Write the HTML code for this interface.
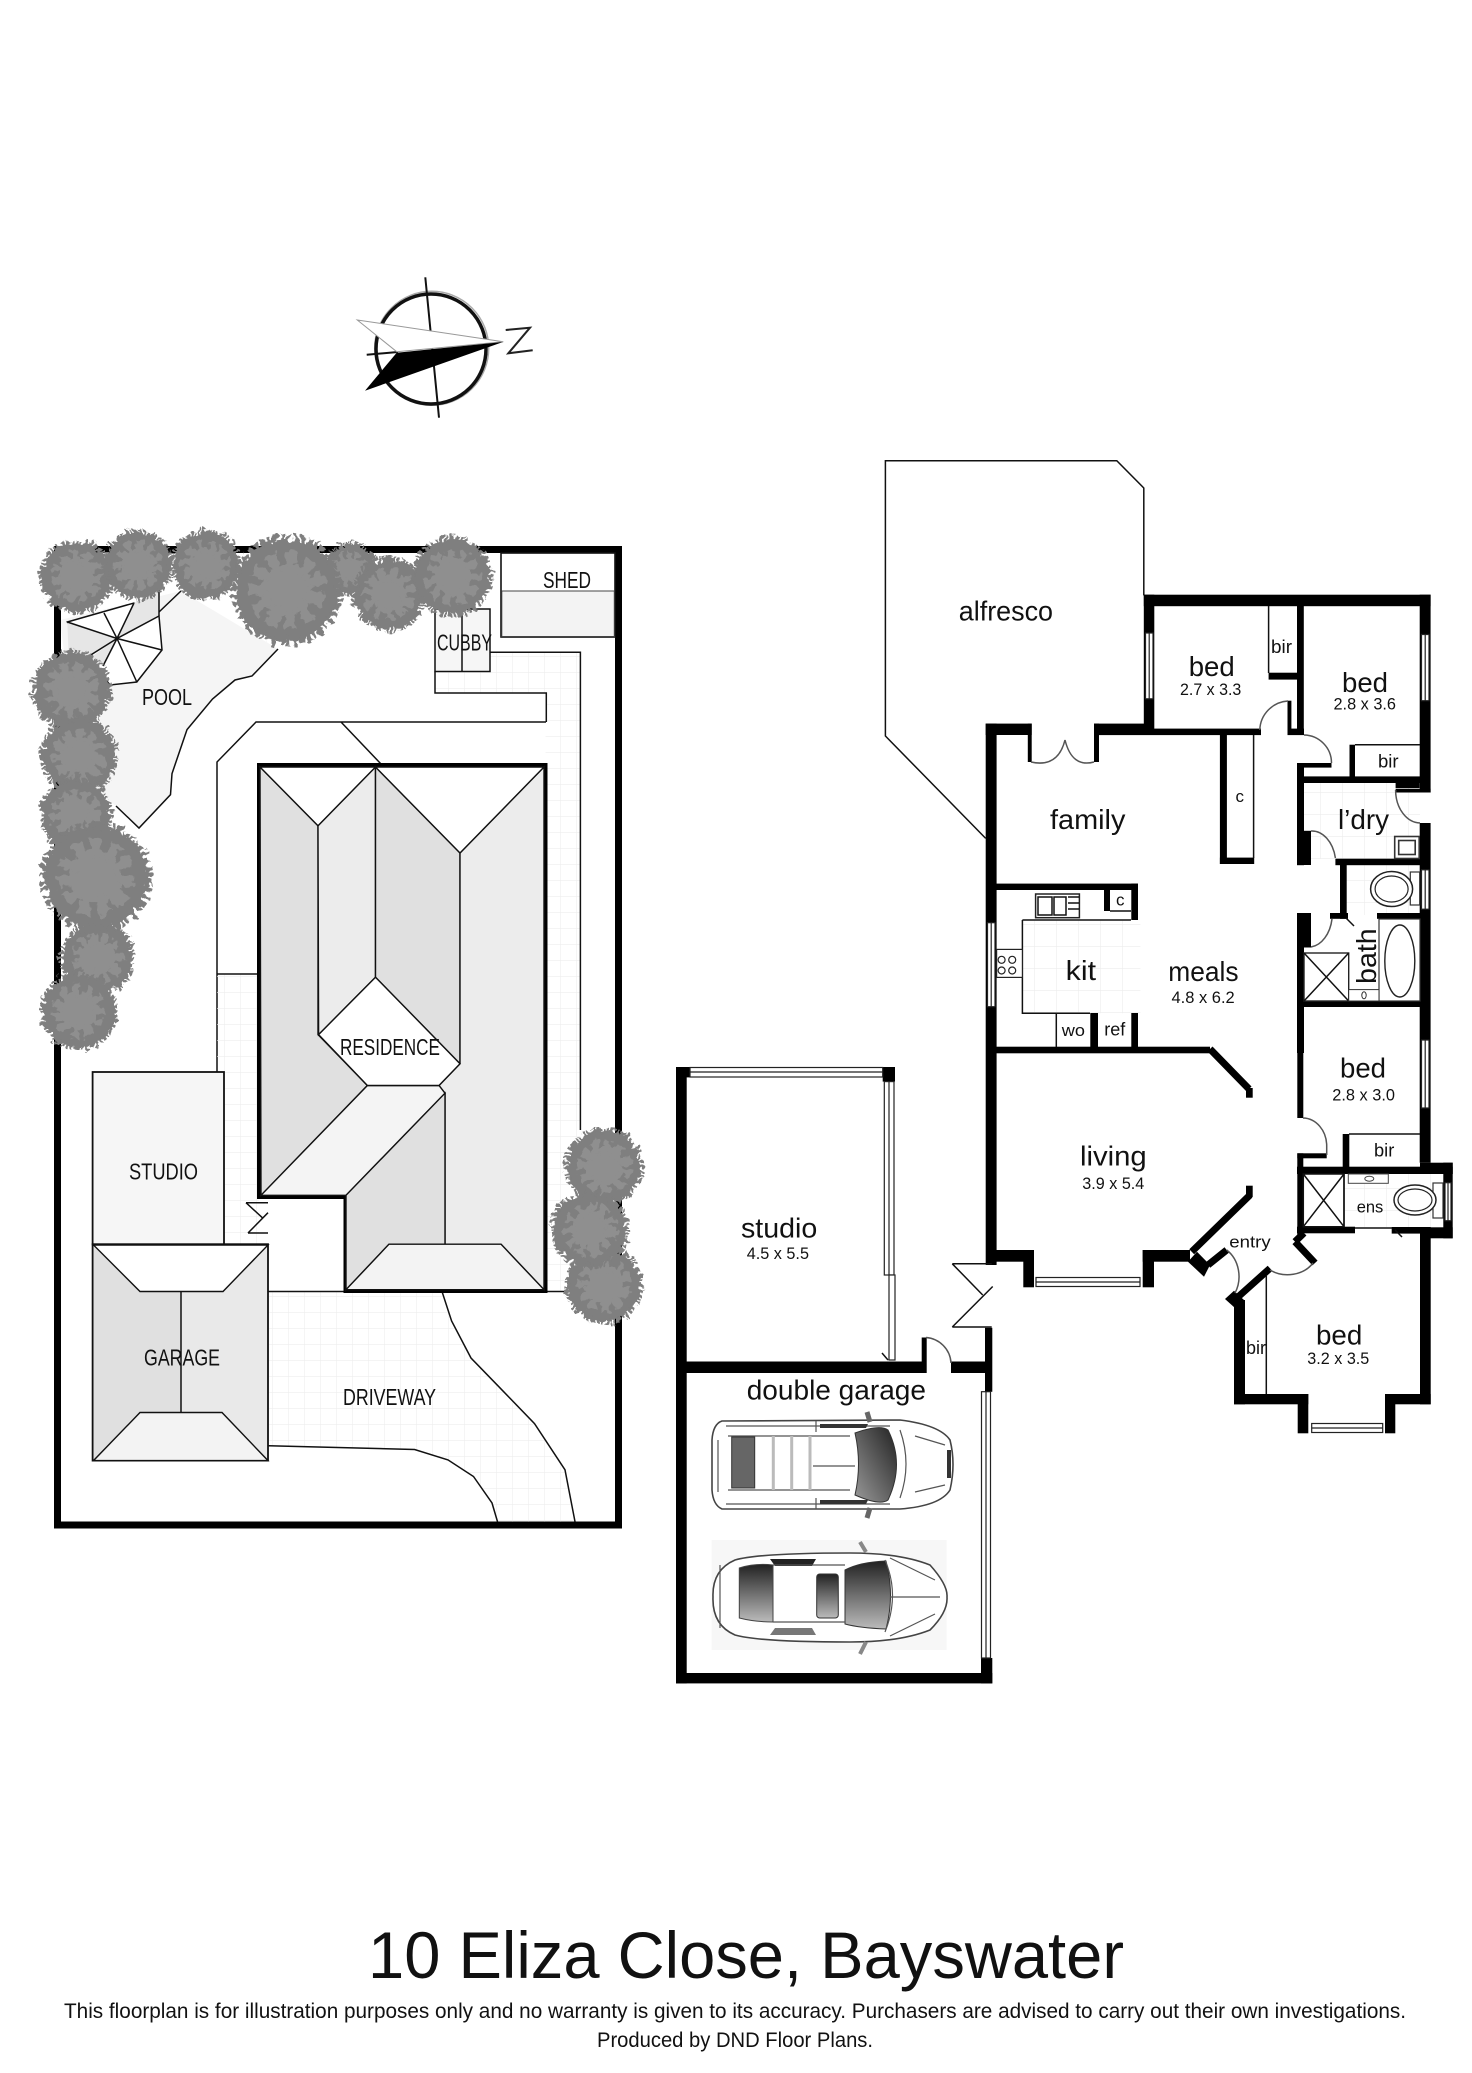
<!DOCTYPE html>
<html><head><meta charset="utf-8"><style>
html,body{margin:0;padding:0;background:#fff}
svg{display:block}
text{font-family:"Liberation Sans",sans-serif;fill:#111}
.l{stroke:#111;stroke-width:1.5;fill:none}
.t{stroke:#444;stroke-width:1.5;fill:none}
.a{stroke:#555;stroke-width:1.5;fill:none}
.w{fill:#fff;stroke:#222;stroke-width:1.2}
</style></head><body>
<svg width="1472" height="2073" viewBox="0 0 1472 2073" xmlns="http://www.w3.org/2000/svg">
<defs>
<pattern id="g1" width="16" height="16" patternUnits="userSpaceOnUse"><path d="M16 0H0V16" fill="none" stroke="#eee" stroke-width="1.2"/></pattern>
<pattern id="g2" width="22" height="22" patternUnits="userSpaceOnUse"><path d="M22 0H0V22" fill="none" stroke="#ececec" stroke-width="1.2"/></pattern>
<linearGradient id="d1" x1="1" y1="0" x2="0" y2="1"><stop offset="0" stop-color="#222"/><stop offset="1" stop-color="#999"/></linearGradient>
<linearGradient id="d2" x1="0" y1="0" x2="0" y2="1"><stop offset="0" stop-color="#222"/><stop offset="1" stop-color="#bbb"/></linearGradient>
<filter id="rough" filterUnits="userSpaceOnUse" x="0" y="500" width="700" height="900" color-interpolation-filters="sRGB"><feTurbulence type="fractalNoise" baseFrequency=".13" numOctaves="2" seed="3"/><feDisplacementMap in="SourceGraphic" scale="11" xChannelSelector="R" yChannelSelector="G"/></filter>
<g id="t">
<circle r="88" fill="#7f7f7f"/>
<circle r="90" fill="none" stroke="#7f7f7f" stroke-width="14" stroke-dasharray="7 5"/>
<circle r="46" fill="#8f8f8f"/>
<circle r="50" fill="none" stroke="#8f8f8f" stroke-width="34" stroke-dasharray="17 11"/>
</g>
</defs>
<rect width="1472" height="2073" fill="#fff"/>

<!-- compass -->
<circle cx="431.7" cy="348.3" r="57" fill="none" stroke="#aaa" stroke-width="1.5"/>
<circle cx="431" cy="349" r="55" fill="none" stroke="#111" stroke-width="3.5"/>
<path d="M425.3,277.3L439,417.7M366.7,354.7L398,352" stroke="#111" stroke-width="2" fill="none"/>
<path d="M357.3,320L503.3,341.7L396.7,351.7Z" fill="#fff" stroke="#999" stroke-width="1"/>
<path d="M503,342L396.7,352.7L365,390.7Z" fill="#000"/>
<path d="M505.7,330L530,327.7L508.3,353.3L532.7,350.3" fill="none" stroke="#222" stroke-width="2"/>

<!-- site -->
<path d="M181,591L278,649L252,676L235,680L212.5,699L187,729.6L172,773.6L170.5,794.7L139,828L116,806L80,780L60,620Z" fill="#f5f5f5"/>
<path d="M181,591L159,612M278,649L252,676L235,680L212.5,699L187,729.6L172,773.6L170.5,794.7L139,828L116,806" class="l"/>
<path d="M67.3,622L134,603L159,616L162,650L136.8,682L110,685L87.5,657Z" fill="#fff" stroke="#111" stroke-width="1.5"/>
<path d="M117,638.5L67.3,622L68.6,654L87.5,657ZM117,638.5L134,603L159,590L159,616ZM117,638.5L103,666L87,660Z" fill="#e6e6e6"/>
<path d="M117,638.5L67.3,622M117,638.5L104,613M117,638.5L134,603M117,638.5L159,616M117,638.5L162,650M117,638.5L136.8,682M117,638.5L103,666M117,638.5L87.5,657M159,590V616" class="l"/>
<rect x="57.5" y="549.5" width="561" height="975.5" fill="none" stroke="#000" stroke-width="7"/>
<rect x="501" y="553" width="114" height="84" fill="#fff" stroke="#111" stroke-width="1.6"/>
<rect x="501.8" y="591" width="112.5" height="45.5" fill="#f3f3f3" stroke="#444" stroke-width="1"/>
<path d="M490,652.3H580.4V1291.5H545.5V693H435V671.5H490Z" fill="#fff"/>
<path d="M490,652.3H580.4V1291.5H545.5V693H435V671.5H490Z" fill="url(#g1)"/>
<path d="M490,652.3H580.4V1130M435,671.5V693H546.3V722" class="l"/>
<rect x="435" y="609" width="55" height="62.5" fill="#f6f6f6" stroke="#111" stroke-width="1.5"/>
<path d="M462,609V671.5" class="l"/>
<path d="M546,722H256L217,762V1072M341,722L381,764" class="l"/>
<path d="M217,974H259V1244H224V1072H217Z" fill="url(#g1)"/>
<path d="M217,974H259" class="l"/>
<path d="M268,1291.5H442L451.6,1321L471,1358L497,1384.8L534.5,1423.6L565,1469.8L575,1521.6H497.5L492,1503L473.5,1476.5L448,1459.9L414.6,1449.5L268.5,1445.8Z" fill="url(#g1)"/>
<path d="M442,1291.5L451.6,1321L471,1358L497,1384.8L534.5,1423.6L565,1469.8L575,1521.6M497.5,1521.6L492,1503L473.5,1476.5L448,1459.9L414.6,1449.5L268.5,1445.8" class="l" stroke-width="1.2"/>
<path d="M268,1291.5H346M544,1291.5H564" class="l"/>
<path d="M246,1202.7H268M246,1202.7L263,1218.3M248,1233L268,1212.7M248,1233H268" class="l"/>

<!-- residence -->
<path d="M259,765H545.5V1291H345.5V1197H259Z" fill="#fff" stroke="#000" stroke-width="4"/>
<path d="M260,767L318,825.7V1034.6L367.4,1085.5L261,1195.3Z" fill="#e0e0e0" stroke="#111" stroke-width="1.4"/>
<path d="M318,825.7L375.5,767V977.2L318.6,1034.6Z" fill="#ececec" stroke="#111" stroke-width="1.4"/>
<path d="M375.5,767L460,853V1063.7L375.5,977.2Z" fill="#e0e0e0" stroke="#111" stroke-width="1.4"/>
<path d="M460,853L544,767V1289.7L501,1244.2H445V1093.2L439,1085.5L460,1063.7Z" fill="#ececec" stroke="#111" stroke-width="1.4"/>
<path d="M367.4,1085.5H439L445,1093.2L346,1195.3H261Z" fill="#f4f4f4" stroke="#111" stroke-width="1.4"/>
<path d="M445,1093.2V1244.2H389L346,1289.7V1195.3Z" fill="#e0e0e0" stroke="#111" stroke-width="1.4"/>
<path d="M389,1244.2H501L544,1289.7H346Z" fill="#f3f3f3" stroke="#111" stroke-width="1.4"/>
<path d="M260,767H375.5L318,825.7ZM375.5,767H544L460,853ZM318.6,1034.6L375.5,977.2L460,1063.7L439,1085.5H367.4Z" fill="#fff" stroke="#111" stroke-width="1.4"/>

<!-- studio & garage site -->
<rect x="92.6" y="1072" width="131.4" height="172.5" fill="#f6f6f6" stroke="#111" stroke-width="1.8"/>
<rect x="92.6" y="1244.2" width="175.4" height="216.4" fill="#e9e9e9" stroke="#111" stroke-width="1.8"/>
<path d="M93.5,1245L140,1291.5H181V1412.5H140L93.5,1460Z" fill="#e0e0e0"/>
<path d="M93.5,1245H268L223,1291.5H140Z" fill="#fff" stroke="#111" stroke-width="1.4"/>
<path d="M140,1412.5H222L268,1460.6H93.5Z" fill="#f3f3f3" stroke="#111" stroke-width="1.4"/>
<path d="M181,1291.5V1412.5" class="l"/>

<text x="543" y="588" font-size="23" textLength="48" lengthAdjust="spacingAndGlyphs">SHED</text>
<text x="437" y="650.4" font-size="23" textLength="55" lengthAdjust="spacingAndGlyphs">CUBBY</text>
<text x="142" y="705" font-size="23" textLength="50" lengthAdjust="spacingAndGlyphs">POOL</text>
<text x="340" y="1055" font-size="23" textLength="100" lengthAdjust="spacingAndGlyphs">RESIDENCE</text>
<text x="129" y="1179.4" font-size="23" textLength="69" lengthAdjust="spacingAndGlyphs">STUDIO</text>
<text x="144" y="1365.5" font-size="23" textLength="76" lengthAdjust="spacingAndGlyphs">GARAGE</text>
<text x="343" y="1405" font-size="23" textLength="93" lengthAdjust="spacingAndGlyphs">DRIVEWAY</text>

<!-- trees -->
<g filter="url(#rough)">
<use href="#t" transform="translate(350,569) scale(.28)"/>
<use href="#t" transform="translate(206,565) scale(.37) rotate(20)"/>
<use href="#t" transform="translate(76.6,576.5) scale(.39)"/>
<use href="#t" transform="translate(138,565) scale(.37) rotate(40)"/>
<use href="#t" transform="translate(389,594.5) scale(.39) rotate(15)"/>
<use href="#t" transform="translate(287,590) scale(.58) rotate(10)"/>
<use href="#t" transform="translate(452.5,576.5) scale(.42) rotate(30)"/>
<use href="#t" transform="translate(71.5,690) scale(.42) rotate(50)"/>
<use href="#t" transform="translate(79,755.6) scale(.41) rotate(5)"/>
<use href="#t" transform="translate(76,814) scale(.38)"/>
<use href="#t" transform="translate(97.6,958) scale(.39) rotate(25)"/>
<use href="#t" transform="translate(96,877) scale(.58) rotate(35)"/>
<use href="#t" transform="translate(79,1011) scale(.41) rotate(60)"/>
<use href="#t" transform="translate(604,1285) scale(.41) rotate(12)"/>
<use href="#t" transform="translate(604,1166.5) scale(.41) rotate(45)"/>
<use href="#t" transform="translate(590,1229.4) scale(.41) rotate(70)"/>
</g>

<!-- alfresco -->
<path d="M985.7,838.4L885.4,736V460.7H1116.8L1143.8,488V595.4" class="l"/>

<!-- tiled areas -->
<rect x="1022.4" y="920" width="118" height="93.3" fill="url(#g2)"/>
<rect x="1304" y="783" width="116" height="76" fill="url(#g2)"/>
<rect x="1346" y="865" width="74" height="50" fill="url(#g2)"/>
<rect x="1345" y="1174" width="98" height="53" fill="url(#g2)"/>

<!-- walls: main house -->
<g fill="#000">
<rect x="1143.8" y="594.7" width="286.8" height="11.5"/>
<rect x="1143.8" y="594.7" width="10.5" height="140.3"/>
<rect x="985.7" y="723.6" width="46" height="11.4"/>
<rect x="1094" y="723.6" width="50" height="11.4"/>
<rect x="1099" y="728.6" width="162" height="6.5"/>
<rect x="985.7" y="723.6" width="10.9" height="541.4"/>
<rect x="1027.8" y="723.6" width="3.9" height="38.4"/>
<rect x="1094" y="723.6" width="5" height="38.4"/>
<rect x="1297" y="606" width="6.8" height="129"/>
<rect x="1268.6" y="672.7" width="28.4" height="6.9"/>
<rect x="1287.5" y="700.7" width="3.9" height="34.3"/>
<rect x="1287.5" y="728.6" width="16.5" height="6.5"/>
<rect x="1219.9" y="735" width="7" height="129"/>
<rect x="1219.9" y="857.6" width="34.3" height="6.4"/>
<rect x="1297" y="763" width="7" height="102.2"/>
<rect x="1297" y="763" width="34.5" height="4.6"/>
<rect x="1349.5" y="744.7" width="5.5" height="33"/>
<rect x="1304" y="776.4" width="116" height="6.6"/>
<rect x="1419.7" y="594.7" width="10.9" height="197.8"/>
<rect x="1395.6" y="783" width="24" height="5"/>
<rect x="1395.6" y="788.7" width="35" height="3.8"/>
<rect x="1419.7" y="823" width="10.9" height="339.7"/>
<rect x="1304" y="830.8" width="7" height="34.2"/>
<rect x="1335.4" y="858.7" width="84.6" height="6.5"/>
<rect x="1340" y="865" width="6.7" height="53.8"/>
<rect x="1330" y="913" width="18" height="5.8"/>
<rect x="1377" y="913" width="43" height="5.8"/>
<rect x="1297" y="913" width="7" height="140"/>
<rect x="1304" y="913" width="7" height="34.5"/>
<rect x="1304" y="1000.5" width="116" height="6.5"/>
<rect x="1297.3" y="1000.5" width="6" height="117.5"/>
<rect x="1297.3" y="1153.3" width="29.4" height="5"/>
<rect x="1297.3" y="1153.3" width="6" height="83.4"/>
<rect x="1342.7" y="1134" width="6.6" height="33"/>
<rect x="1297" y="1166.7" width="155.7" height="7.3"/>
<rect x="1420" y="1162.7" width="32.7" height="11.3"/>
<rect x="1443.3" y="1162.7" width="9.4" height="75.6"/>
<rect x="1430" y="1227.3" width="22.7" height="11"/>
<rect x="1297" y="1226.7" width="58" height="6.6"/>
<rect x="1391.7" y="1227" width="38" height="6.6"/>
<rect x="1420" y="1227" width="10.7" height="177.3"/>
<rect x="1385" y="1394" width="45.7" height="10.3"/>
<rect x="1385" y="1394" width="10.3" height="39.3"/>
<rect x="1297.7" y="1394" width="10.6" height="39.3"/>
<rect x="1234" y="1394" width="74.3" height="10.3"/>
<rect x="1234" y="1300" width="11" height="104.3"/>
<path d="M1225,1299L1234,1290.7L1244,1300L1235.3,1308.3Z"/>
<path d="M1188,1261.7L1197,1251.7L1210,1265L1204,1276.7Z"/>
<!-- kitchen -->
<rect x="996" y="883.6" width="142" height="6.4"/>
<rect x="1131.3" y="883.6" width="6.7" height="36.4"/>
<rect x="1104" y="890" width="6" height="21"/>
<rect x="1090.3" y="1013" width="7.7" height="34"/>
<rect x="1131.3" y="1013" width="6.7" height="34"/>
<!-- living -->
<rect x="996" y="1046.7" width="214" height="6.6"/>
<rect x="1246" y="1088" width="6.7" height="9.7"/>
<rect x="1246" y="1185.7" width="6.7" height="11.3"/>
<rect x="990" y="1250" width="43.3" height="11.7"/>
<rect x="1023.3" y="1250" width="10.7" height="37.3"/>
<rect x="1142.7" y="1250" width="47.3" height="11.7"/>
<rect x="1142.7" y="1250" width="11.3" height="37.3"/>
<!-- studio / garage -->
<rect x="676" y="1067" width="10.7" height="616.4"/>
<rect x="676" y="1067" width="14" height="10.4"/>
<rect x="882.7" y="1067" width="12.3" height="14.6"/>
<rect x="676" y="1361.5" width="250" height="11.5"/>
<rect x="921.7" y="1337.5" width="5" height="35.5"/>
<rect x="951" y="1361.5" width="35" height="11.5"/>
<rect x="985" y="1327.8" width="7.3" height="64"/>
<rect x="981" y="1658" width="11.3" height="25.4"/>
<rect x="676" y="1673" width="316.3" height="10.4"/>
</g>
<g stroke="#000" fill="none">
<path d="M1210,1049L1249,1089M1191.7,1251.7L1250,1195M1208,1265L1226.7,1250M1238.3,1296.7L1270,1268.3M1295,1241.7L1315,1263M1295,1241.7L1304,1233" stroke-width="7"/>
</g>

<!-- windows -->
<g fill="#fff" stroke="#222" stroke-width="1.2">
<rect x="1145.5" y="633" width="7.5" height="65.8"/><path d="M1149.2,633V698.8" fill="none"/>
<rect x="1421.5" y="634.5" width="7.5" height="66.2"/><path d="M1425.2,634.5V700.7" fill="none"/>
<rect x="987.5" y="922.7" width="7.5" height="84"/><path d="M991.2,922.7V1006.7" fill="none"/>
<rect x="1421.5" y="869.8" width="7.5" height="39.4"/><path d="M1425.2,869.8V909.2" fill="none"/>
<rect x="1421.5" y="1040" width="7.5" height="68"/><path d="M1425.2,1040V1108" fill="none"/>
<rect x="1445" y="1182.7" width="6" height="38"/><path d="M1448,1182.7V1220.7" fill="none"/>
<rect x="1036" y="1277.5" width="104" height="9"/><path d="M1036,1282H1140" fill="none"/>
<rect x="1311.7" y="1423.5" width="71" height="9"/><path d="M1311.7,1428H1382.7" fill="none"/>
<rect x="690" y="1067.5" width="192.7" height="9.5"/><path d="M690,1072H882.7" fill="none"/>
<rect x="884.3" y="1081.6" width="9.7" height="193.4"/><path d="M889,1081.6V1275" fill="none"/>
<rect x="889" y="1275" width="6" height="85"/>
<rect x="981.5" y="1391.7" width="9" height="266.3"/><path d="M986,1391.7V1658" fill="none"/>
</g>

<!-- door arcs / thin lines -->
<path d="M1031,762Q1058,768 1065,740Q1072,768 1094,762" class="a"/>
<path d="M1259.8,730A30,30 0 0 1 1288,701" class="a"/>
<path d="M1304,735A28,28 0 0 1 1331.5,763" class="a"/>
<path d="M1395.6,790A25,33 0 0 0 1420,823" class="a"/>
<path d="M1311,831A24,34 0 0 1 1335.4,858" class="a"/>
<path d="M1311,947A24,34 0 0 0 1332,919" class="a"/>
<path d="M1303,1118A24,28 0 0 1 1326.7,1146V1155" class="a"/>
<path d="M1226.7,1250A28,32 0 0 1 1235,1293" class="a"/>
<path d="M1270,1270A30,25 0 0 0 1313,1263" class="a"/>
<path d="M926,1337.5A27,27 0 0 1 951,1363" class="a"/>
<path d="M1268.6,606V673M1253.6,735V858M1355,744.7H1420M1349,1134H1420M1266.3,1276V1394M1056.3,1013V1047M1110,911H1131M1022.4,920H1131M1022.4,920V1013.3H1090M1355,1228H1392M1344,1174V1227M1395,1230L1402,1237M1346,918L1354,926M882,1353L888,1360" class="l"/>
<path d="M952.3,1263.8H991.7M952.3,1263.8L982.7,1295M952.3,1327L992.7,1286.5M952.3,1327H991.7" class="l"/>

<!-- fixtures -->
<rect x="1035.6" y="894" width="43.8" height="23.7" fill="#fff" stroke="#222" stroke-width="1.5"/>
<path d="M1038,897H1052V915H1038ZM1054,897H1066V915H1054ZM1068,897H1079M1068,903H1079M1068,909H1079" class="l"/>
<rect x="996.6" y="949.4" width="25.8" height="28" fill="#fff" stroke="#222" stroke-width="1.2"/>
<g fill="none" stroke="#222" stroke-width="1.2"><circle cx="1001.6" cy="959.8" r="3.5"/><circle cx="1012.2" cy="959.8" r="3.5"/><circle cx="1001.6" cy="970.5" r="3.5"/><circle cx="1012.2" cy="970.5" r="3.5"/></g>
<rect x="1394.7" y="836.5" width="24.5" height="22" fill="#fff" stroke="#333" stroke-width="1.6"/>
<rect x="1398.7" y="840.5" width="16.5" height="14" fill="none" stroke="#333" stroke-width="1.6"/>
<!-- toilet -->
<rect x="1410.3" y="872" width="9.4" height="33" fill="#fff" stroke="#333" stroke-width="1.2"/>
<ellipse cx="1391.6" cy="889" rx="21" ry="17.5" fill="#fff" stroke="#222" stroke-width="1.5"/>
<ellipse cx="1391.6" cy="889" rx="16.5" ry="13" fill="none" stroke="#222" stroke-width="1.2"/>
<!-- bath -->
<rect x="1379" y="919" width="41" height="82" fill="#fff" stroke="#333" stroke-width="1.2"/>
<ellipse cx="1399.8" cy="961" rx="15" ry="36" fill="none" stroke="#222" stroke-width="1.4"/>
<rect x="1304" y="953" width="44.7" height="48" fill="#fff" stroke="#222" stroke-width="1.4"/>
<path d="M1304,953L1348.7,1001M1348.7,953L1304,1001" class="l" stroke-width="1"/>
<rect x="1348.7" y="989.6" width="30.3" height="11.4" fill="#fff" stroke="#333" stroke-width="1"/>
<ellipse cx="1364" cy="995.3" rx="2.2" ry="3.5" fill="none" stroke="#333" stroke-width="1"/>
<!-- ensuite -->
<path d="M1303.3,1174H1344V1226.7H1303.3ZM1303.3,1174L1344,1226.7M1344,1174L1303.3,1226.7" class="l" stroke-width="1"/>
<rect x="1348.3" y="1174" width="40" height="9.3" fill="#fff" stroke="#444" stroke-width="1"/>
<ellipse cx="1369.3" cy="1178.7" rx="4.5" ry="2.5" fill="none" stroke="#444" stroke-width="1"/>
<rect x="1433" y="1183" width="10" height="35" fill="#fff" stroke="#333" stroke-width="1.2"/>
<ellipse cx="1415" cy="1200" rx="21" ry="15" fill="#fff" stroke="#222" stroke-width="1.5"/>
<ellipse cx="1415" cy="1200" rx="17" ry="11" fill="none" stroke="#222" stroke-width="1.2"/>

<!-- SUV -->
<path d="M722,1421L900,1420Q940,1425 950,1440Q956,1464 950,1490Q940,1506 900,1509L722,1509Q713,1505 712,1490V1440Q713,1424 722,1421Z" fill="#fff" stroke="#444" stroke-width="1.6"/>
<path d="M726,1426H890M726,1504H890M728,1436H850M728,1490H850M816,1421V1432M816,1498V1509M813,1466H855M900,1430Q912,1464 900,1498M915,1436L945,1445M915,1492L945,1485M718,1440V1492" stroke="#555" stroke-width="1.2" fill="none"/>
<path d="M820,1424H868L866,1428H820ZM820,1500H868L866,1504H820Z" fill="#333"/>
<path d="M855,1433Q880,1424 888,1430Q905,1464 888,1500Q880,1506 855,1495Q862,1464 855,1433Z" fill="url(#d1)" stroke="#333"/>
<rect x="731.7" y="1437" width="23" height="51" fill="#666" stroke="#333"/>
<path d="M773.3,1436V1490M791.7,1436V1490M810,1436V1490" stroke="#bbb" stroke-width="3" fill="none"/>
<path d="M867,1412L870,1422M867,1518L870,1508" stroke="#666" stroke-width="5" fill="none"/>
<rect x="947" y="1450" width="4" height="28" fill="#333"/>

<!-- sedan -->
<rect x="711.7" y="1540" width="235" height="110" fill="#f7f7f7"/>
<path d="M735,1560Q760,1553 850,1553Q900,1553 930,1565Q948,1585 947,1597Q948,1612 930,1630Q900,1642 850,1642Q760,1642 735,1635Q712,1625 713,1597Q712,1570 735,1560Z" fill="#fff" stroke="#444" stroke-width="1.6"/>
<path d="M739.3,1568Q755,1563 773,1565V1622Q755,1622 739.3,1618Z" fill="url(#d2)" stroke="#444"/>
<rect x="816.7" y="1574" width="21.6" height="44" rx="3" fill="url(#d2)" stroke="#333"/>
<path d="M845,1570Q860,1562 886,1561Q895,1595 886,1629Q860,1628 845,1624Z" fill="url(#d2)" stroke="#333"/>
<path d="M770,1559H816L812,1566H775Z" fill="#222"/>
<path d="M770,1635H816L812,1628H775Z" fill="#777"/>
<path d="M773,1565H845M773,1622H845M890,1597H940M720,1565V1628M885,1560Q900,1595 885,1632M890,1558L935,1580M890,1636L935,1614" stroke="#555" stroke-width="1.2" fill="none"/>
<path d="M860,1542L866,1552M860,1654L866,1642" stroke="#888" stroke-width="4" fill="none"/>

<!-- room labels -->
<text x="958.8" y="620.3" font-size="28" textLength="94.2" lengthAdjust="spacingAndGlyphs">alfresco</text>
<text x="1188.7" y="675.8" font-size="28" textLength="46" lengthAdjust="spacingAndGlyphs">bed</text>
<text x="1180" y="695" font-size="17" textLength="61.3" lengthAdjust="spacingAndGlyphs">2.7 x 3.3</text>
<text x="1271" y="652.8" font-size="18" textLength="21" lengthAdjust="spacingAndGlyphs">bir</text>
<text x="1342" y="691.9" font-size="28" textLength="46" lengthAdjust="spacingAndGlyphs">bed</text>
<text x="1333.5" y="709.5" font-size="17" textLength="62.5" lengthAdjust="spacingAndGlyphs">2.8 x 3.6</text>
<text x="1378" y="767.6" font-size="18" textLength="20.6" lengthAdjust="spacingAndGlyphs">bir</text>
<text x="1235.5" y="802" font-size="17">c</text>
<text x="1050" y="828.9" font-size="28" textLength="75.4" lengthAdjust="spacingAndGlyphs">family</text>
<text x="1338" y="828.9" font-size="28" textLength="51" lengthAdjust="spacingAndGlyphs">l’dry</text>
<text x="1116" y="905.4" font-size="17">c</text>
<text x="1065.7" y="980" font-size="28" textLength="30.3" lengthAdjust="spacingAndGlyphs">kit</text>
<text x="1168.3" y="981.2" font-size="28" textLength="70.3" lengthAdjust="spacingAndGlyphs">meals</text>
<text x="1171.5" y="1003" font-size="17" textLength="63.2" lengthAdjust="spacingAndGlyphs">4.8 x 6.2</text>
<text transform="translate(1376,983.9) rotate(-90)" font-size="28" textLength="55.5" lengthAdjust="spacingAndGlyphs">bath</text>
<text x="1061.8" y="1036" font-size="17" textLength="23.2" lengthAdjust="spacingAndGlyphs">wo</text>
<text x="1104.3" y="1035.5" font-size="18" textLength="21" lengthAdjust="spacingAndGlyphs">ref</text>
<text x="1340" y="1077.3" font-size="28" textLength="46" lengthAdjust="spacingAndGlyphs">bed</text>
<text x="1332.3" y="1100.7" font-size="17" textLength="62.7" lengthAdjust="spacingAndGlyphs">2.8 x 3.0</text>
<text x="1080" y="1165.7" font-size="28" textLength="66.7" lengthAdjust="spacingAndGlyphs">living</text>
<text x="1082.3" y="1189" font-size="17" textLength="62" lengthAdjust="spacingAndGlyphs">3.9 x 5.4</text>
<text x="1374" y="1156.7" font-size="18" textLength="20.3" lengthAdjust="spacingAndGlyphs">bir</text>
<text x="1356.7" y="1212.7" font-size="17" textLength="26.6" lengthAdjust="spacingAndGlyphs">ens</text>
<text x="1229.3" y="1247.3" font-size="17" textLength="41.4" lengthAdjust="spacingAndGlyphs">entry</text>
<text x="1316" y="1344.3" font-size="28" textLength="46.3" lengthAdjust="spacingAndGlyphs">bed</text>
<text x="1307.3" y="1364" font-size="17" textLength="62" lengthAdjust="spacingAndGlyphs">3.2 x 3.5</text>
<text x="1246" y="1354" font-size="18" textLength="20" lengthAdjust="spacingAndGlyphs">bir</text>
<text x="741" y="1237.3" font-size="28" textLength="76.3" lengthAdjust="spacingAndGlyphs">studio</text>
<text x="746.7" y="1259" font-size="17" textLength="62.3" lengthAdjust="spacingAndGlyphs">4.5 x 5.5</text>
<text x="746.7" y="1399.3" font-size="28" textLength="179.3" lengthAdjust="spacingAndGlyphs">double garage</text>

<!-- footer -->
<text x="368" y="1978" font-size="66" textLength="756" lengthAdjust="spacingAndGlyphs">10 Eliza Close, Bayswater</text>
<text x="64" y="2018" font-size="21" textLength="1342" lengthAdjust="spacingAndGlyphs">This floorplan is for illustration purposes only and no warranty is given to its accuracy. Purchasers are advised to carry out their own investigations.</text>
<text x="597" y="2047" font-size="21" textLength="276" lengthAdjust="spacingAndGlyphs">Produced by DND Floor Plans.</text>
</svg>
</body></html>
